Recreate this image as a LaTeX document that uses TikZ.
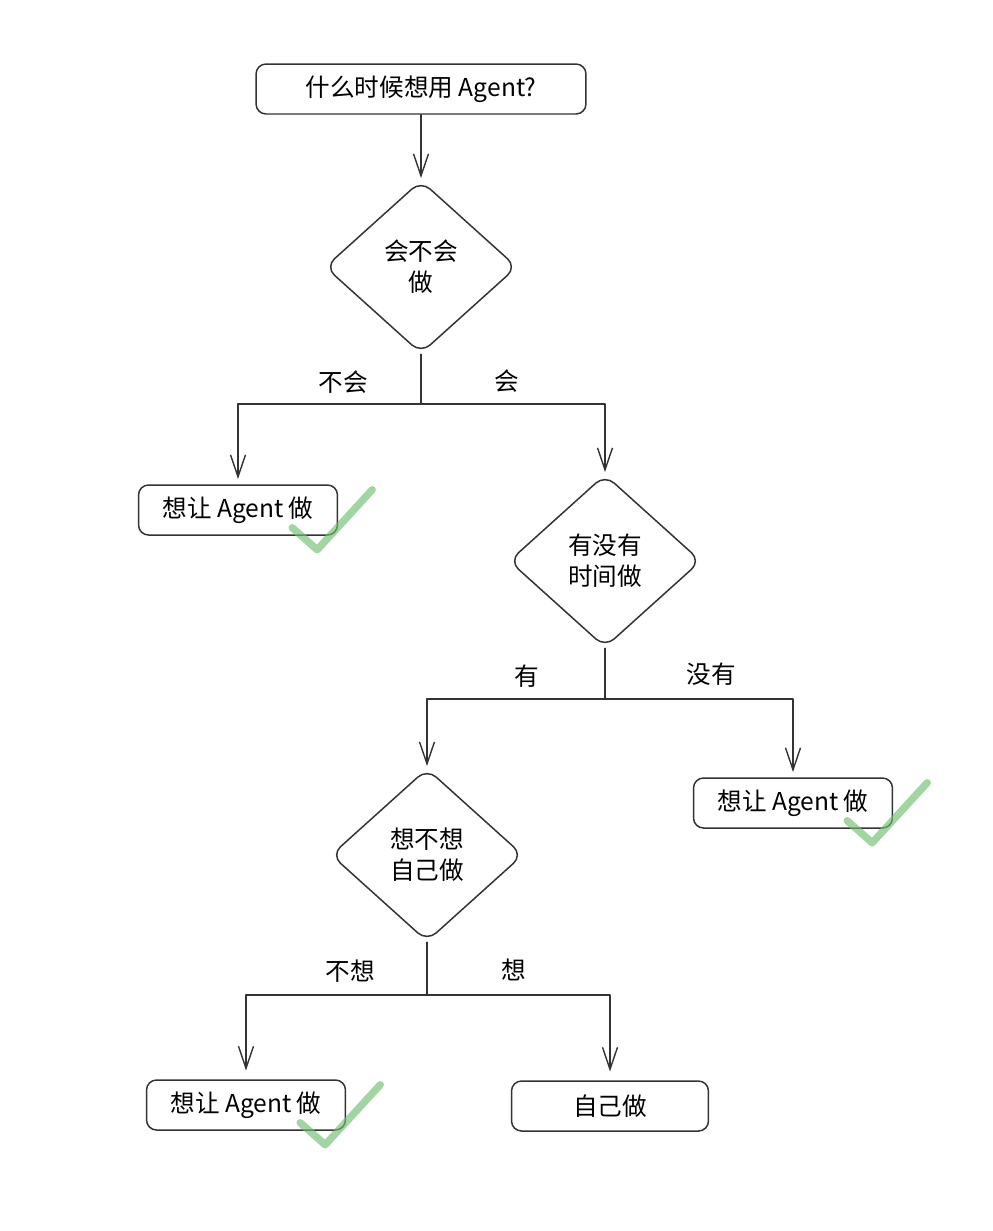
\documentclass[tikz,border=0pt]{standalone}
\usepackage{fontspec}
\setmainfont{Noto Sans CJK SC}
\usetikzlibrary{shapes.geometric,arrows.meta}
\begin{document}
\begin{tikzpicture}[x=0.02cm, y=-0.02cm, line join=round, line cap=round,
	>={Straight Barb[length=4.4mm,width=3mm]}]

		\tikzset{box/.style={draw=black!80, line width=0.85pt, rounded corners=0.2cm,
				minimum width=3.98cm, minimum height=1cm, inner sep=0pt,
				font=\fontsize{14}{17.5}\selectfont},
			ask/.style={draw=black!80, line width=0.85pt, diamond, rounded corners=7pt,
				minimum width=3.84cm, minimum height=3.46cm, inner sep=0pt, align=center,
				font=\fontsize{14}{17.5}\selectfont},
			label style/.style={font=\fontsize{14}{17.5}\selectfont},
			link/.style={draw=black!80, line width=0.8pt},
			tick/.style={draw={rgb,255:red,110;green,190;blue,110}, opacity=0.65,
				line width=4.2pt}}

		\useasboundingbox (0,0) rectangle (993,1231);

		% nodes
		\node[box, minimum width=6.6cm] (start) at (421,89) {什么时候想用 Agent?};
		\node[ask] (d1) at (421,267) {会不会\\做};
		\node[box] (a1) at (238,510) {想让 Agent 做};
		\node[ask] (d2) at (605,561) {有没有\\时间做};
		\node[box] (a2) at (793,803) {想让 Agent 做};
		\node[ask] (d3) at (427,855) {想不想\\自己做};
		\node[box] (a3) at (246,1105) {想让 Agent 做};
		\node[box, minimum width=3.94cm] (s1) at (610,1106) {自己做};

		% branch points
		\coordinate (j1) at (421,404);
		\coordinate (j2) at (605,699);
		\coordinate (j3) at (427,995);

		% connectors
		\draw[link,->,shorten >=1pt] (start) -- (d1);
		\draw[link] (d1) -- (j1);
		\draw[link,->,shorten >=3pt] (j1) -| (a1);
		\draw[link,->,shorten >=1pt] (j1) -| (d2);
		\draw[link] (d2) -- (j2);
		\draw[link,->,shorten >=1pt] (j2) -| (d3);
		\draw[link,->,shorten >=3pt] (j2) -| (a2);
		\draw[link] (d3) -- (j3);
		\draw[link,->,shorten >=5pt] (j3) -| (a3);
		\draw[link,->,shorten >=5pt] (j3) -| (s1);

		% branch labels
		\node[label style] (l1) at (343,382) {不会};
		\node[label style] (l2) at (507,381) {会};
		\node[label style] (l3) at (527,676) {有};
		\node[label style] (l4) at (711,674) {没有};
		\node[label style] (l5) at (350,971) {不想};
		\node[label style] (l6) at (514,970) {想};

		% green ticks
		\foreach \b in {a1,a2,a3}
		\draw[tick] ([shift={(-46,-8)}]\b.south east) -- ++(25,22) -- ++(55,-60);
		\end{tikzpicture}
\end{document}
